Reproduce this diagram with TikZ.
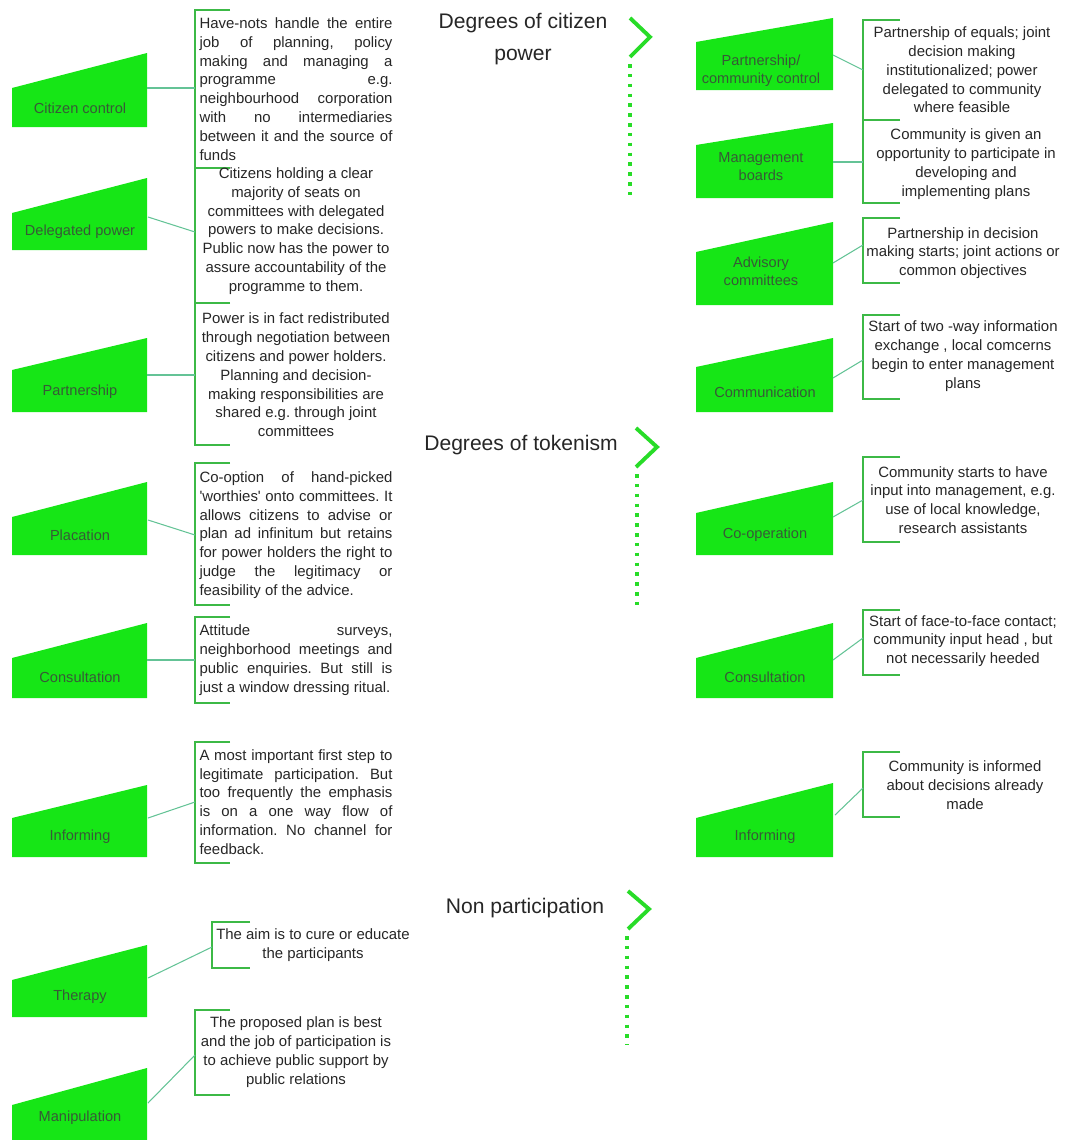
\documentclass[tikz,border=0pt]{standalone}
\usepackage{fontspec}
\setmainfont{Liberation Sans}
\usepackage{xcolor}
\usepackage{tikz}
\definecolor{rungfill}{RGB}{22,230,22}
\definecolor{rungink}{RGB}{55,90,55}
\definecolor{bracecol}{RGB}{60,185,70}
\definecolor{linkcol}{RGB}{100,195,150}
\definecolor{chevcol}{RGB}{40,220,40}
\tolerance=10000
\hyphenpenalty=10000
\frenchspacing

\begin{document}
\begin{tikzpicture}[x=0.02cm,y=-0.02cm,
    rung/.style={fill=rungfill},
    rungtext/.style={text=rungink,font=\fontsize{8.3}{10.2}\selectfont,align=center,inner sep=0pt},
    desc/.style={text=black!85,inner sep=0pt,font=\fontsize{8.5}{10.7}\selectfont},
    just/.style={desc,text width=3.86cm,align=justify},
    mid/.style={desc,align=center},
    brace/.style={draw=bracecol,line width=0.85pt},
    link/.style={draw=linkcol,line width=0.6pt},
    chev/.style={draw=chevcol,line width=2.2pt},
    dots/.style={draw=chevcol,line width=2pt,dash pattern=on 2pt off 3.6pt},
    head/.style={text=black!85,font=\fontsize{12}{18}\selectfont,align=center}]
    \useasboundingbox (0,0) rectangle (1072,1140);

    % headings with chevrons
    \node[head] (citpow) at (523,39) {Degrees of citizen\\power};
    \draw[chev] (630,18) -- (650,37) -- (630,57);
    \draw[dots] (630,64) -- (630,200);
    \node[head] (token) at (521,445) {Degrees of tokenism};
    \draw[chev] (636,428) -- (657,447) -- (636,467);
    \draw[dots] (637,474) -- (637,607);
    \node[head] (nonpart) at (525,908) {Non participation};
    \draw[chev] (628,891) -- (649,909) -- (628,929);
    \draw[dots] (627,936) -- (627,1045);

    % left ladder
    \fill[rung] (12,127) -- (147,127) -- (147,53) -- (12,88) -- cycle;
    \node[rungtext] (ctrl) at (80,108) {Citizen control};
    \coordinate (ctrl-out) at (147,88);
    \coordinate (ctrl-in) at (195,88);
    \draw[brace] (230,10) -- (195,10) -- (195,168) -- (230,168);
    \node[just] (ctrl-txt) at (296,89) {Have-nots handle the entire\linebreak
      job of planning, policy\linebreak making and managing a\linebreak
      programme e.g.\linebreak neighbourhood corporation\linebreak
      with no intermediaries\linebreak between it and the source of\linebreak funds};
    \draw[link] (ctrl-out) -- (ctrl-in);

    \fill[rung] (12,250) -- (147,250) -- (147,178) -- (12,213) -- cycle;
    \node[rungtext] (deleg) at (80,232) {Delegated power};
    \coordinate (deleg-out) at (148,217);
    \coordinate (deleg-in) at (195,232);
    \draw[brace] (230,168) -- (195,168) -- (195,303) -- (230,303);
    \node[mid] (deleg-txt) at (296,231) {Citizens holding a clear\\majority of seats on\\
      committees with delegated\\powers to make decisions.\\Public now has the power to\\
      assure accountability of the\\programme to them.};
    \draw[link] (deleg-out) -- (deleg-in);

    \fill[rung] (12,412) -- (147,412) -- (147,338) -- (12,370) -- cycle;
    \node[rungtext] (partn) at (80,392) {Partnership};
    \coordinate (partn-out) at (147,375);
    \coordinate (partn-in) at (195,375);
    \draw[brace] (230,303) -- (195,303) -- (195,445) -- (230,445);
    \node[mid] (partn-txt) at (296,375) {Power is in fact redistributed\\through negotiation between\\
      citizens and power holders.\\Planning and decision-\\making responsibilities are\\
      shared e.g. through joint\\committees};
    \draw[link] (partn-out) -- (partn-in);

    \fill[rung] (12,555) -- (147,555) -- (147,482) -- (12,517) -- cycle;
    \node[rungtext] (placa) at (80,535) {Placation};
    \coordinate (placa-out) at (148,520);
    \coordinate (placa-in) at (195,535);
    \draw[brace] (230,463) -- (195,463) -- (195,605) -- (230,605);
    \node[just] (placa-txt) at (296,535) {Co-option of hand-picked\linebreak
      \textquotesingle worthies\textquotesingle{} onto committees. It\linebreak
      allows citizens to advise or\linebreak plan ad infinitum but retains\linebreak
      for power holders the right to\linebreak judge the legitimacy or\linebreak
      feasibility of the advice.};
    \draw[link] (placa-out) -- (placa-in);

    \fill[rung] (12,698) -- (147,698) -- (147,623) -- (12,658) -- cycle;
    \node[rungtext] (consL) at (80,677) {Consultation};
    \coordinate (consL-out) at (147,660);
    \coordinate (consL-in) at (195,660);
    \draw[brace] (230,617) -- (195,617) -- (195,703) -- (230,703);
    \node[just] (consL-txt) at (296,660) {Attitude surveys,\linebreak
      neighborhood meetings and\linebreak public enquiries. But still is\linebreak
      just a window dressing ritual.};
    \draw[link] (consL-out) -- (consL-in);

    \fill[rung] (12,857) -- (147,857) -- (147,785) -- (12,818) -- cycle;
    \node[rungtext] (infoL) at (80,837) {Informing};
    \coordinate (infoL-out) at (148,818);
    \coordinate (infoL-in) at (195,802);
    \draw[brace] (230,742) -- (195,742) -- (195,863) -- (230,863);
    \node[just] (infoL-txt) at (296,802) {A most important first step to\linebreak
      legitimate participation. But\linebreak too frequently the emphasis\linebreak
      is on a one way flow of\linebreak information. No channel for\linebreak feedback.};
    \draw[link] (infoL-out) -- (infoL-in);

    \fill[rung] (12,1017) -- (147,1017) -- (147,945) -- (12,980) -- cycle;
    \node[rungtext] (thera) at (80,997) {Therapy};
    \coordinate (thera-out) at (148,978);
    \coordinate (thera-in) at (212,947);
    \draw[brace] (250,922) -- (212,922) -- (212,968) -- (250,968);
    \node[mid] (thera-txt) at (313,945) {The aim is to cure or educate\\the participants};
    \draw[link] (thera-out) -- (thera-in);

    \fill[rung] (12,1140) -- (147,1140) -- (147,1068) -- (12,1105) -- cycle;
    \node[rungtext] (manip) at (80,1118) {Manipulation};
    \coordinate (manip-out) at (148,1103);
    \coordinate (manip-in) at (195,1055);
    \draw[brace] (230,1010) -- (195,1010) -- (195,1095) -- (230,1095);
    \node[mid] (manip-txt) at (296,1052) {The proposed plan is best\\and the job of participation is\\
      to achieve public support by\\public relations};
    \draw[link] (manip-out) -- (manip-in);

    % right ladder
    \fill[rung] (696,90) -- (833,90) -- (833,18) -- (696,42) -- cycle;
    \node[rungtext] (commctrl) at (761,71) {Partnership/\\community control};
    \coordinate (commctrl-out) at (833,55);
    \coordinate (commctrl-in) at (863,70);
    \draw[brace] (900,20) -- (863,20) -- (863,120) -- (900,120);
    \node[mid] (commctrl-txt) at (962,70) {Partnership of equals; joint\\decision making\\
      institutionalized; power\\delegated to community\\where feasible};
    \draw[link] (commctrl-out) -- (commctrl-in);

    \fill[rung] (696,198) -- (833,198) -- (833,123) -- (696,145) -- cycle;
    \node[rungtext] (mgmt) at (761,167) {Management\\boards};
    \coordinate (mgmt-out) at (833,162);
    \coordinate (mgmt-in) at (863,162);
    \draw[brace] (900,120) -- (863,120) -- (863,203) -- (900,203);
    \node[mid] (mgmt-txt) at (966,164) {Community is given an\\opportunity to participate in\\
      developing and\\implementing plans};
    \draw[link] (mgmt-out) -- (mgmt-in);

    \fill[rung] (696,305) -- (833,305) -- (833,222) -- (696,252) -- cycle;
    \node[rungtext] (advis) at (761,271) {Advisory\\committees};
    \coordinate (advis-out) at (833,263);
    \coordinate (advis-in) at (863,245);
    \draw[brace] (900,218) -- (863,218) -- (863,283) -- (900,283);
    \node[mid] (advis-txt) at (963,253) {Partnership in decision\\making starts; joint actions or\\
      common objectives};
    \draw[link] (advis-out) -- (advis-in);

    \fill[rung] (696,412) -- (833,412) -- (833,338) -- (696,367) -- cycle;
    \node[rungtext] (comm) at (765,392) {Communication};
    \coordinate (comm-out) at (833,378);
    \coordinate (comm-in) at (863,360);
    \draw[brace] (900,315) -- (863,315) -- (863,399) -- (900,399);
    \node[mid] (comm-txt) at (963,356) {Start of two -way information\\exchange , local comcerns\\
      begin to enter management\\plans};
    \draw[link] (comm-out) -- (comm-in);

    \fill[rung] (696,555) -- (833,555) -- (833,482) -- (696,513) -- cycle;
    \node[rungtext] (coop) at (765,535) {Co-operation};
    \coordinate (coop-out) at (833,517);
    \coordinate (coop-in) at (863,500);
    \draw[brace] (900,457) -- (863,457) -- (863,542) -- (900,542);
    \node[mid] (coop-txt) at (963,500) {Community starts to have\\input into management, e.g.\\
      use of local knowledge,\\research assistants};
    \draw[link] (coop-out) -- (coop-in);

    \fill[rung] (696,698) -- (833,698) -- (833,623) -- (696,658) -- cycle;
    \node[rungtext] (consR) at (765,677) {Consultation};
    \coordinate (consR-out) at (833,660);
    \coordinate (consR-in) at (863,638);
    \draw[brace] (900,610) -- (863,610) -- (863,675) -- (900,675);
    \node[mid] (consR-txt) at (963,641) {Start of face-to-face contact;\\community input head , but\\
      not necessarily heeded};
    \draw[link] (consR-out) -- (consR-in);

    \fill[rung] (696,857) -- (833,857) -- (833,783) -- (696,818) -- cycle;
    \node[rungtext] (infoR) at (765,837) {Informing};
    \coordinate (infoR-out) at (835,815);
    \coordinate (infoR-in) at (863,788);
    \draw[brace] (900,752) -- (863,752) -- (863,817) -- (900,817);
    \node[mid] (infoR-txt) at (965,785) {Community is informed\\about decisions already\\made};
    \draw[link] (infoR-out) -- (infoR-in);
  \end{tikzpicture}
\end{document}
